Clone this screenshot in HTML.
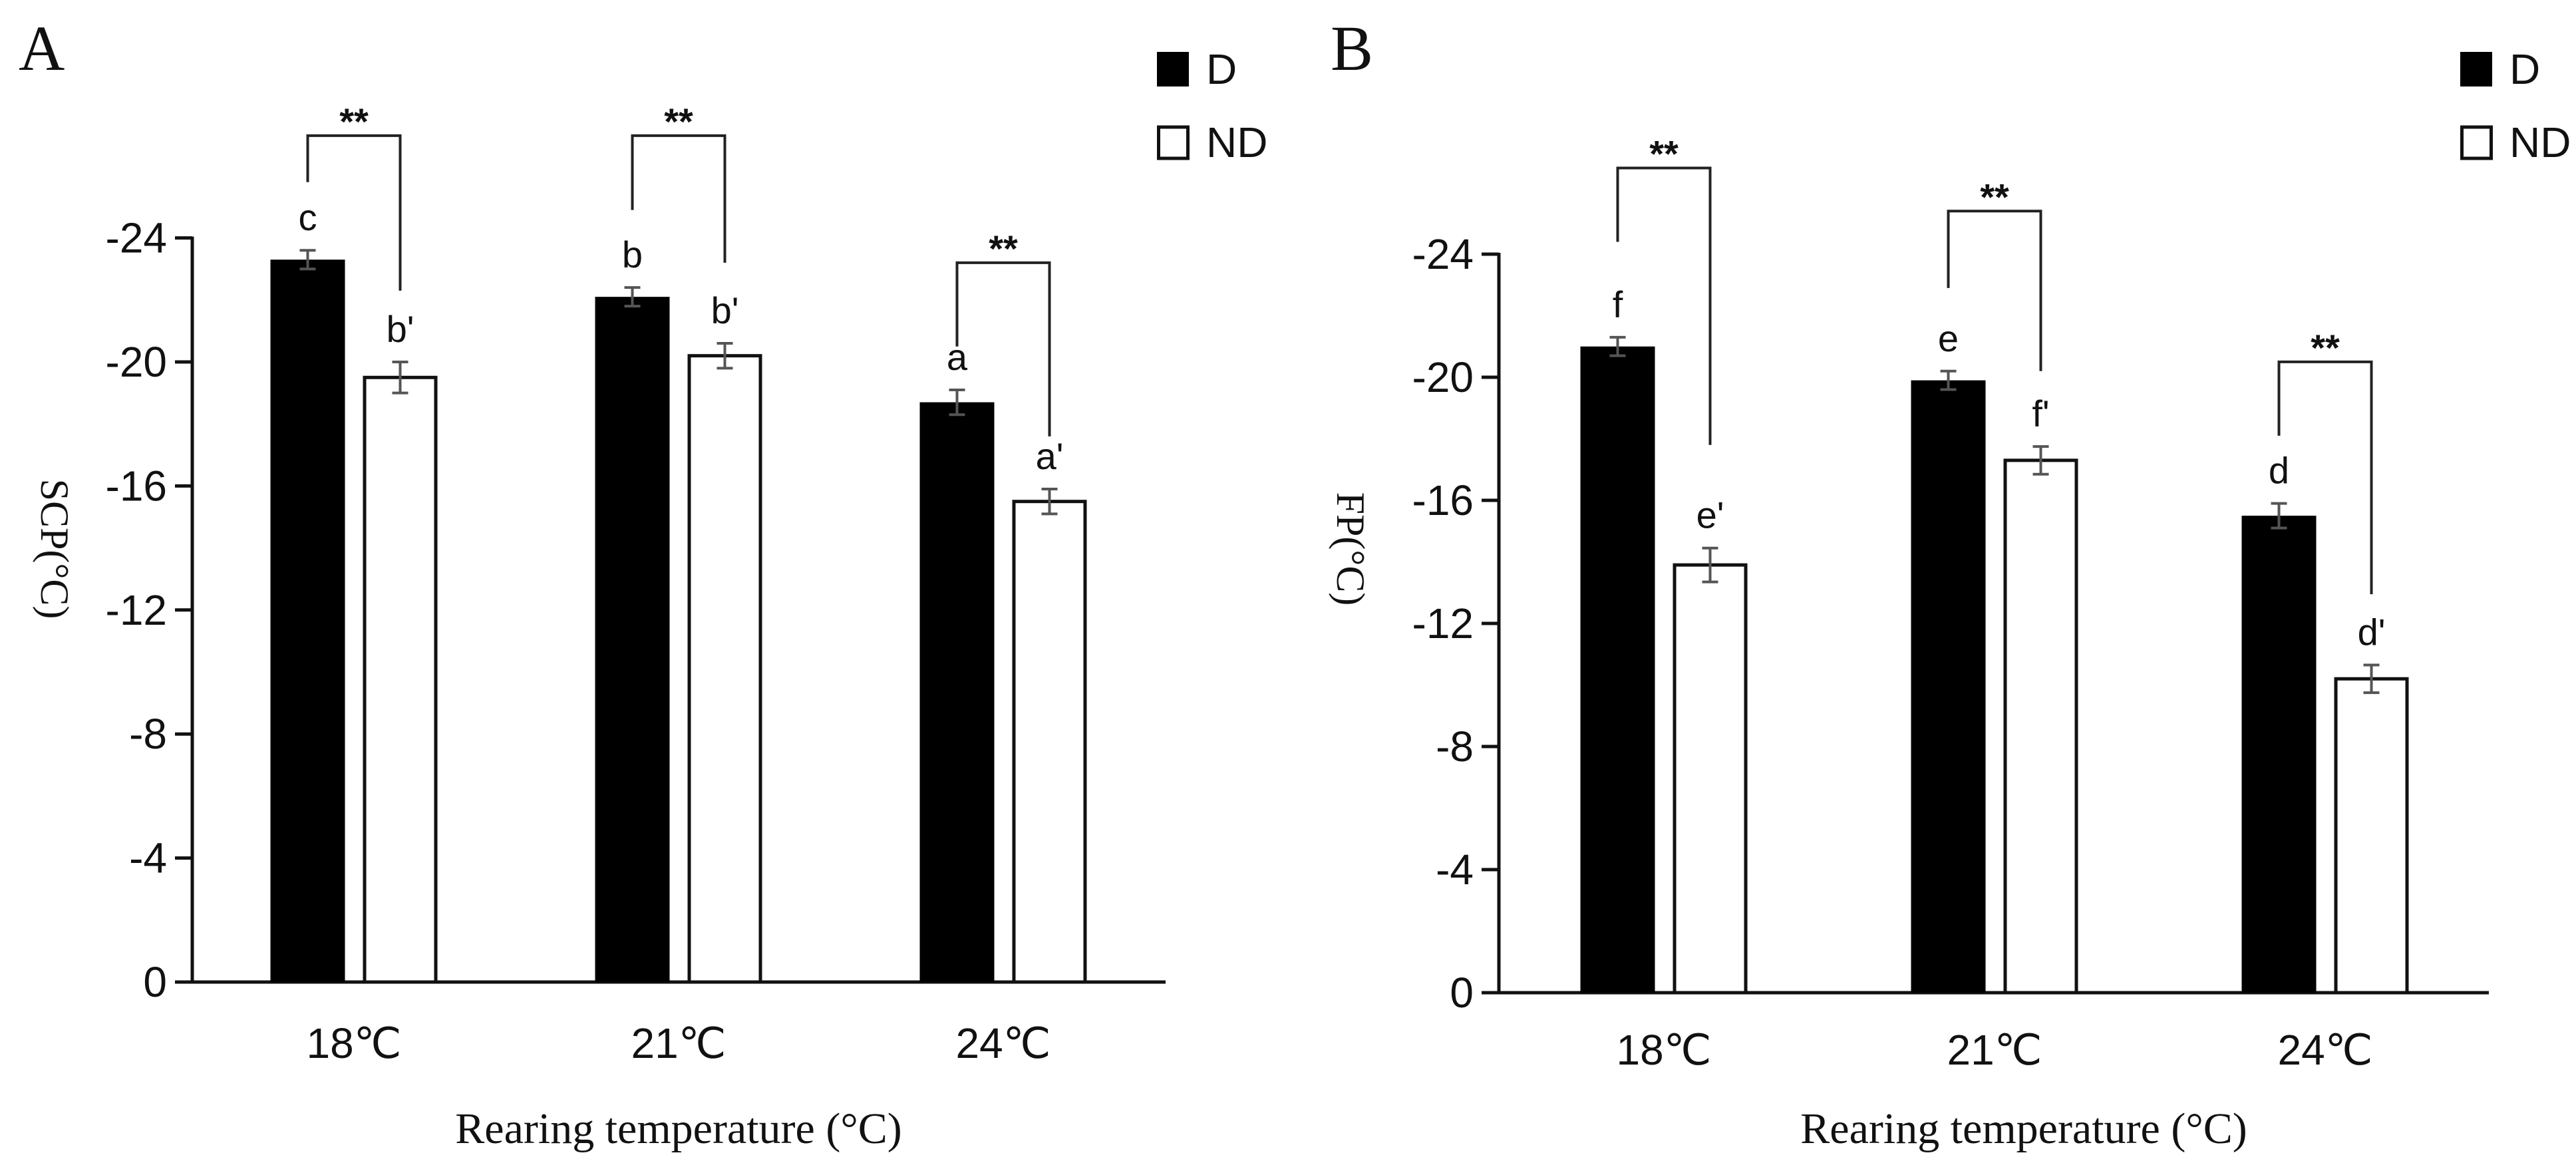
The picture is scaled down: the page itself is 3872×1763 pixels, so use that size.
<!DOCTYPE html>
<html><head><meta charset="utf-8">
<style>
html,body{margin:0;padding:0;background:#fff;}
svg{display:block;}
.tk{font-family:"Liberation Sans","DejaVu Sans",sans-serif;font-size:64px;fill:#111;}
.lt{font-family:"Liberation Sans","DejaVu Sans",sans-serif;font-size:56px;fill:#111;}
.sf{font-family:"Liberation Serif",serif;fill:#111;}
</style></head>
<body>
<svg id="chart" width="3872" height="1763" viewBox="0 0 3872 1763" xmlns="http://www.w3.org/2000/svg"></svg>
<script>
const categories = ["18℃", "21℃", "24℃"];
const ticks = [0, -4, -8, -12, -16, -20, -24];
const scpD = [23.3, 22.1, 18.7];
const scpND = [19.5, 20.2, 15.5];
const scpDErr = [0.3, 0.3, 0.4];
const scpNDErr = [0.5, 0.4, 0.4];
const scpDLetters = ["c", "b", "a"];
const scpNDLetters = ["b'", "b'", "a'"];
const scpBracketLeft = [25.8, 24.9, 20.5];
const scpBracketRight = [22.3, 23.2, 17.6];
const scpBracketTop = [27.3, 27.3, 23.2];
const fpD = [21.0, 19.9, 15.5];
const fpND = [13.9, 17.3, 10.2];
const fpDErr = [0.3, 0.3, 0.4];
const fpNDErr = [0.55, 0.45, 0.45];
const fpDLetters = ["f", "e", "d"];
const fpNDLetters = ["e'", "f'", "d'"];
const fpBracketLeft = [24.4, 22.9, 18.1];
const fpBracketRight = [17.8, 20.2, 12.95];
const fpBracketTop = [26.8, 25.4, 20.5];

const svg = document.getElementById('chart');
const NS = 'http://www.w3.org/2000/svg';
function mk(tag, attrs, parent) {
  const e = document.createElementNS(NS, tag);
  for (const k in attrs) e.setAttribute(k, attrs[k]);
  (parent || svg).appendChild(e);
  return e;
}

function panel(p) {
  const g = mk('g', {});
  
  
  const y = v => p.y0 - v * p.ppu;
  const cx = i => p.c0 + i * p.step;
  const pl = mk('text', {x: p.labelX, y: 105, class: 'sf', 'font-size': 96}, g);
  pl.textContent = p.letter;
  
  
  const ya = mk('line', {x1: p.ax, y1: y(0), x2: p.ax, y2: y(24) - 2, stroke: '#111', 'stroke-width': 5}, g);
  
  
  const xa = mk('line', {x1: p.ax - 2, y1: y(0), x2: p.axEnd, y2: y(0), stroke: '#111', 'stroke-width': 5}, g);
  
  
  ticks.forEach(t => {
    const v = -t;
    const tl = mk('line', {x1: p.ax - 26, y1: y(v), x2: p.ax, y2: y(v), stroke: '#111', 'stroke-width': 5}, g);
    
    
    const tt = mk('text', {x: p.ax - 38, y: y(v) + 22, class: 'tk', 'text-anchor': 'end'}, g);
    tt.textContent = String(t);
    
    
  });
  const yt = mk('text', {x: 0, y: 0, class: 'sf', 'font-size': 60, 'text-anchor': 'middle',
    transform: `translate(${p.ytX},${p.ytY}) rotate(90)`}, g);
  yt.textContent = p.ytitle;
  
  
  const xt = mk('text', {x: p.xtX, y: 1718, class: 'sf', 'font-size': 66, 'text-anchor': 'middle'}, g);
  xt.textContent = 'Rearing temperature (°C)';
  
  
  const bw = 112, gap = 27;
  categories.forEach((c, i) => {
    const xl = mk('text', {x: cx(i), y: p.xlY, class: 'tk', 'font-size': 66, 'text-anchor': 'middle'}, g);
    xl.textContent = c;
    
    
    const dX = cx(i) - gap / 2 - bw, nX = cx(i) + gap / 2;
    const bd = mk('rect', {x: dX, y: y(p.D[i]), width: bw, height: y(0) - y(p.D[i]), fill: '#000'}, g);
    
    
    const bn = mk('rect', {x: nX + 2.5, y: y(p.ND[i]), width: bw - 5, height: y(0) - y(p.ND[i]), fill: '#fff', stroke: '#111', 'stroke-width': 5}, g);
    
    
    [[dX + bw / 2, p.D[i], p.DE[i]], [nX + bw / 2, p.ND[i], p.NDE[i]]].forEach(([x, v, e]) => {
      const eb = mk('path', {d: `M${x},${y(v + e)}V${y(v - e)}M${x - 12},${y(v + e)}H${x + 12}M${x - 12},${y(v - e)}H${x + 12}`,
        stroke: '#555', 'stroke-width': 4, fill: 'none'}, g);
      
      
    });
    const ld = mk('text', {x: dX + bw / 2, y: y(p.D[i] + p.DE[i]) - 30, class: 'lt', 'text-anchor': 'middle'}, g);
    ld.textContent = p.DL[i];
    
    
    const ln = mk('text', {x: nX + bw / 2, y: y(p.ND[i] + p.NDE[i]) - 30, class: 'lt', 'text-anchor': 'middle'}, g);
    ln.textContent = p.NL[i];
    
    
    const x1 = dX + bw / 2, x2 = nX + bw / 2;
    const br = mk('path', {d: `M${x1},${y(p.BL[i])}V${y(p.BT[i])}H${x2}V${y(p.BR[i])}`, stroke: '#222', 'stroke-width': 4, fill: 'none'}, g);
    
    
    const st = mk('text', {x: (x1 + x2) / 2, y: y(p.BT[i]) - 2, class: 'lt', 'font-size': 46, 'font-weight': 'bold', 'text-anchor': 'middle'}, g);
    st.textContent = '**';
    
    
  });
  const l1 = mk('rect', {x: p.legX, y: 78, width: 48, height: 52, fill: '#000'}, g);
  
  
  const l1t = mk('text', {x: p.legX + 74, y: 126, class: 'tk'}, g);
  l1t.textContent = 'D';
  
  
  const l2 = mk('rect', {x: p.legX + 2.5, y: 191, width: 44, height: 47, fill: '#fff', stroke: '#111', 'stroke-width': 5}, g);
  
  
  const l2t = mk('text', {x: p.legX + 74, y: 236, class: 'tk'}, g);
  l2t.textContent = 'ND';
  
  
}

panel({name: 'panel-a-scp', letter: 'A', labelX: 28, y0: 1476, ppu: 46.6, ax: 289, axEnd: 1752,
  c0: 532, step: 488, ytitle: 'SCP(°C)', ytX: 62, ytY: 825, xtX: 1020, xlY: 1590, legX: 1739,
  D: scpD, ND: scpND, DE: scpDErr, NDE: scpNDErr, DL: scpDLetters, NL: scpNDLetters,
  BL: scpBracketLeft, BR: scpBracketRight, BT: scpBracketTop});
panel({name: 'panel-b-fp', letter: 'B', labelX: 2000, y0: 1492, ppu: 46.25, ax: 2253, axEnd: 3741,
  c0: 2501, step: 497, ytitle: 'FP(°C)', ytX: 2010, ytY: 825, xtX: 3042, xlY: 1600, legX: 3698,
  D: fpD, ND: fpND, DE: fpDErr, NDE: fpNDErr, DL: fpDLetters, NL: fpNDLetters,
  BL: fpBracketLeft, BR: fpBracketRight, BT: fpBracketTop});
</script>
</body></html>
